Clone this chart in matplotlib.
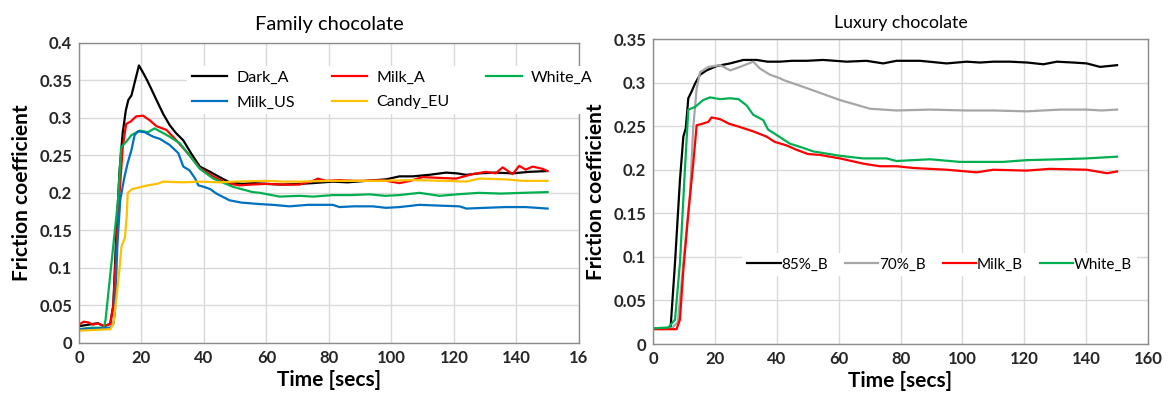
import numpy as np
import matplotlib.pyplot as plt

plt.rcParams["font.family"] = ["Lato", "DejaVu Sans"]

# ---- Family chocolate ----
dark_a_t = [0, 3, 6, 8, 10, 11, 12, 13, 14, 15, 15.8, 16.8, 18, 19.2, 20.3, 21.6, 23, 24.8, 27, 29.1,
            31, 33.4, 36, 38.7, 42, 45, 48.2, 52.4, 56, 59.9, 65, 70.6, 75, 81.2, 86, 91.9, 98.3,
            102.6, 106.8, 112, 117.5, 121, 123.9, 128.1, 133, 138.8, 144, 149.4]
dark_a = [0.022, 0.024, 0.026, 0.022, 0.025, 0.05, 0.15, 0.23, 0.28, 0.31, 0.324, 0.33, 0.35, 0.37,
          0.362, 0.352, 0.34, 0.324, 0.305, 0.29, 0.28, 0.27, 0.252, 0.235, 0.228, 0.221, 0.214,
          0.212, 0.213, 0.212, 0.211, 0.212, 0.213, 0.215, 0.214, 0.216, 0.218, 0.222, 0.222,
          0.224, 0.227, 0.226, 0.224, 0.226, 0.227, 0.226, 0.228, 0.229]

milk_a_t = [0, 1.5, 3, 4.5, 6, 8, 10, 11, 12, 13, 14, 15.1, 16.5, 18.3, 20.5, 22.6, 24.8, 28,
            31.2, 35.4, 38.7, 43, 47.2, 51.4, 55, 59.9, 65, 70.6, 74.9, 76.5, 79.1, 83.4, 88,
            91.9, 97, 102.6, 106, 110, 115, 120.7, 126, 130.2, 133.4, 135.6, 138.8, 140.9, 143,
            145.2, 148.4, 150]
milk_a = [0.024, 0.028, 0.027, 0.024, 0.026, 0.022, 0.025, 0.05, 0.13, 0.2, 0.26, 0.292, 0.295,
          0.302, 0.303, 0.297, 0.289, 0.284, 0.27, 0.25, 0.233, 0.222, 0.213, 0.21, 0.211, 0.212,
          0.211, 0.211, 0.216, 0.219, 0.216, 0.217, 0.216, 0.216, 0.217, 0.213, 0.216, 0.221,
          0.22, 0.219, 0.225, 0.228, 0.226, 0.234, 0.225, 0.236, 0.231, 0.235, 0.232, 0.229]

white_a_t = [0, 4, 8, 8.5, 9.5, 10.5, 11.5, 12.5, 13.5, 15.1, 16.8, 19.4, 22.1, 24.2, 26.4, 29,
             32.3, 35.4, 38.7, 43, 49.3, 55.6, 57.9, 64.2, 70.6, 75, 81.2, 87, 93, 98, 102.6,
             109, 115.4, 121, 128, 135, 142, 150]
white_a = [0.018, 0.02, 0.02, 0.03, 0.07, 0.11, 0.15, 0.19, 0.261, 0.268, 0.277, 0.283, 0.281,
           0.286, 0.281, 0.275, 0.266, 0.25, 0.232, 0.219, 0.208, 0.201, 0.2, 0.195, 0.196,
           0.195, 0.197, 0.197, 0.198, 0.196, 0.197, 0.2, 0.196, 0.198, 0.2, 0.199, 0.2, 0.201]

milk_us_t = [0, 5, 10, 11, 11.5, 12.3, 13.2, 14.5, 15.6, 16.8, 17.8, 18.9, 21, 23.7, 25.9, 29,
             31.8, 33.4, 35.4, 37.2, 38.2, 40, 42, 44, 48.2, 52, 57.8, 62, 67.4, 73.3, 81.2, 83.4,
             88, 94, 98.3, 102.6, 109, 115, 121.8, 124, 130, 136.6, 143, 150]
milk_us = [0.018, 0.019, 0.02, 0.025, 0.04, 0.13, 0.19, 0.22, 0.24, 0.257, 0.277, 0.282, 0.281,
           0.275, 0.272, 0.264, 0.253, 0.235, 0.23, 0.219, 0.21, 0.208, 0.205, 0.199, 0.19,
           0.187, 0.185, 0.184, 0.182, 0.184, 0.184, 0.181, 0.182, 0.182, 0.18, 0.181, 0.184,
           0.183, 0.182, 0.179, 0.18, 0.181, 0.181, 0.179]

candy_eu_t = [0, 5, 10, 11, 12, 13, 13.6, 14.7, 15.3, 15.6, 17, 19, 22, 25, 27, 33, 38.7, 45,
              50, 59.9, 65, 70.6, 81, 92, 96.2, 106.8, 117.5, 123.9, 128.1, 136.6, 142, 150]
candy_eu = [0.016, 0.017, 0.018, 0.025, 0.06, 0.1, 0.128, 0.14, 0.17, 0.2, 0.205, 0.207, 0.21,
            0.212, 0.215, 0.214, 0.215, 0.214, 0.215, 0.216, 0.215, 0.215, 0.216, 0.216, 0.216,
            0.217, 0.216, 0.215, 0.219, 0.218, 0.216, 0.216]

# ---- Luxury chocolate ----
b85_t = [0, 5, 5.7, 7.1, 8.7, 9.8, 10.6, 11.4, 12.5, 13.6, 15.2, 17.3, 20.6, 24.9, 29.2, 33.5,
         37, 41, 45, 49.7, 55, 62.6, 69, 74.4, 78.7, 86.3, 94.9, 101.4, 105.7, 110, 115.4, 121,
         126.2, 130.5, 135.9, 140.2, 144.5, 150]
b85 = [0.018, 0.018, 0.02, 0.093, 0.188, 0.238, 0.248, 0.282, 0.29, 0.299, 0.309, 0.314, 0.319,
       0.322, 0.326, 0.326, 0.324, 0.324, 0.325, 0.325, 0.326, 0.324, 0.325, 0.322, 0.325, 0.325,
       0.322, 0.324, 0.323, 0.324, 0.324, 0.323, 0.321, 0.324, 0.323, 0.322, 0.318, 0.32]

b70_t = [0, 6, 8, 10, 11.9, 13, 14.1, 15.2, 17.9, 21.7, 24.9, 28.1, 32.4, 34.6, 37.8, 41, 42.1,
         48.6, 51.8, 60.4, 70.1, 78.7, 89.5, 101.4, 110, 120.7, 131.5, 140, 145, 150]
b70 = [0.018, 0.018, 0.025, 0.1, 0.17, 0.249, 0.293, 0.312, 0.318, 0.32, 0.314, 0.318, 0.324,
       0.316, 0.309, 0.305, 0.303, 0.295, 0.291, 0.28, 0.27, 0.268, 0.269, 0.268, 0.268, 0.267,
       0.269, 0.269, 0.268, 0.269]

milk_b_t = [0, 5, 7.6, 8.7, 9.8, 11.4, 13, 14.1, 16.2, 17.9, 18.9, 21.7, 24.4, 28.1, 32.4, 36.7,
            39.3, 43.1, 46.3, 50.1, 54, 60.4, 67.9, 73.3, 78.7, 84.1, 94.9, 104.6, 110, 120.7,
            128.2, 140.2, 146.7, 150]
milk_b = [0.017, 0.017, 0.017, 0.028, 0.085, 0.15, 0.207, 0.251, 0.253, 0.255, 0.26, 0.258,
          0.253, 0.249, 0.244, 0.238, 0.232, 0.228, 0.223, 0.218, 0.217, 0.213, 0.207, 0.204,
          0.204, 0.202, 0.2, 0.197, 0.2, 0.199, 0.201, 0.2, 0.196, 0.198]

white_b_t = [0, 5, 7.1, 8.7, 10.3, 11.4, 13.6, 16.2, 18.4, 21.7, 24.9, 27.6, 30.2, 32.4, 35.6,
             37.2, 39.9, 44.2, 48.6, 51.8, 60.4, 67.9, 75.5, 78.7, 89.5, 99.2, 105.7, 113.2,
             120.7, 131.5, 140.2, 150]
white_b = [0.018, 0.019, 0.028, 0.093, 0.2, 0.269, 0.272, 0.28, 0.283, 0.281, 0.282, 0.281,
           0.274, 0.263, 0.257, 0.246, 0.24, 0.23, 0.225, 0.221, 0.216, 0.213, 0.213, 0.21,
           0.212, 0.209, 0.209, 0.209, 0.211, 0.212, 0.213, 0.215]

x_ticks = [0, 20, 40, 60, 80, 100, 120, 140, 160]
x_labels_left = ["0", "20", "40", "60", "80", "100", "120", "140", "16"]
x_labels_right = ["0", "20", "40", "60", "80", "100", "120", "140", "160"]
y_ticks_left = [0, 0.05, 0.1, 0.15, 0.2, 0.25, 0.3, 0.35, 0.4]
y_labels_left = ["0", "0.05", "0.1", "0.15", "0.2", "0.25", "0.3", "0.35", "0.4"]
y_ticks_right = [0, 0.05, 0.1, 0.15, 0.2, 0.25, 0.3, 0.35]
y_labels_right = ["0", "0.05", "0.1", "0.15", "0.2", "0.25", "0.3", "0.35"]

fig = plt.figure(figsize=(11.68, 4.01), dpi=100)
ax1 = fig.add_axes([0.0676, 0.1454, 0.428, 0.7474])
ax2 = fig.add_axes([0.5591, 0.1421, 0.4238, 0.7606])


def style(ax, yt, yl, xl, ymax):
    ax.set_xlim(0, 160)
    ax.set_ylim(0, ymax)
    ax.set_xticks(x_ticks)
    ax.set_xticklabels(xl)
    ax.set_yticks(yt)
    ax.set_yticklabels(yl)
    ax.grid(True, color="#d9d9d9", lw=1)
    ax.set_axisbelow(True)
    for s in ax.spines.values():
        s.set_color("#8c8c8c")
        s.set_linewidth(1)
    ax.tick_params(length=0, labelsize=12, pad=5, colors="#262626")
    for lab in ax.get_xticklabels() + ax.get_yticklabels():
        lab.set_fontweight("bold")
    ax.set_xlabel("Time [secs]", fontsize=15, fontweight="bold", labelpad=3)
    ax.set_ylabel("Friction coefficient", fontsize=15, fontweight="bold", labelpad=5)


lw = 1.6
ax1.plot(dark_a_t, dark_a, color="#000000", lw=lw, label="Dark_A")
ax1.plot(milk_a_t, milk_a, color="#ff0000", lw=lw, label="Milk_A")
ax1.plot(white_a_t, white_a, color="#00b050", lw=lw, label="White_A")
ax1.plot(milk_us_t, milk_us, color="#0070c0", lw=lw, label="Milk_US")
ax1.plot(candy_eu_t, candy_eu, color="#ffc000", lw=lw, label="Candy_EU")
style(ax1, y_ticks_left, y_labels_left, x_labels_left, 0.4)
ax1.set_title("Family chocolate", fontsize=14.5, pad=9)
h, l = ax1.get_legend_handles_labels()
order = [0, 3, 1, 4, 2]
leg1 = ax1.legend([h[i] for i in order], [l[i] for i in order], ncol=3, loc="upper left",
                  bbox_to_anchor=(0.2, 0.95), fontsize=11.5, frameon=True, framealpha=1,
                  edgecolor="none", fancybox=False, handlelength=2.2, handletextpad=0.6,
                  columnspacing=2.3, borderpad=0.3, labelspacing=0.65)

ax2.plot(b85_t, b85, color="#000000", lw=lw, label="85%_B")
ax2.plot(b70_t, b70, color="#a6a6a6", lw=lw, label="70%_B")
ax2.plot(milk_b_t, milk_b, color="#ff0000", lw=lw, label="Milk_B")
ax2.plot(white_b_t, white_b, color="#00b050", lw=lw, label="White_B")
style(ax2, y_ticks_right, y_labels_right, x_labels_right, 0.35)
ax2.set_title("Luxury chocolate", fontsize=12.8, pad=8)
leg2 = ax2.legend(ncol=4, loc="center left", bbox_to_anchor=(0.165, 0.26), fontsize=11,
                  frameon=True, framealpha=1, edgecolor="none", fancybox=False,
                  handlelength=2.2, handletextpad=0.05, columnspacing=1.1, borderpad=0.3)

plt.savefig("out.png", dpi=100)
